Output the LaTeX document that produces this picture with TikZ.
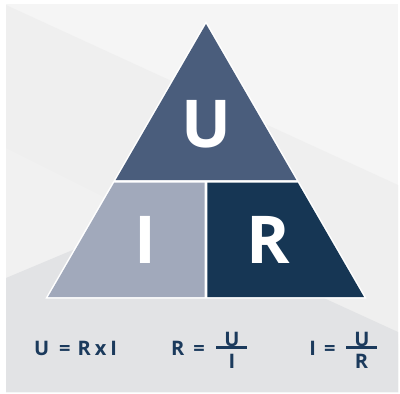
\documentclass[tikz,border=0pt]{standalone}
\usepackage{fontspec}
\setmainfont{Open Sans}
\definecolor{panel}{HTML}{F5F5F5}
\definecolor{band}{HTML}{EFEFEF}
\definecolor{bandb}{HTML}{F1F1F1}
\definecolor{lowgray}{HTML}{E2E3E5}
\definecolor{topc}{HTML}{4A5D7C}
\definecolor{leftc}{HTML}{A1A9BB}
\definecolor{rightc}{HTML}{163654}
\definecolor{txt}{HTML}{1B3A5C}
\begin{document}
\begin{tikzpicture}[x=1pt,y=-1pt,
  big/.style={text=white,font=\fontsize{66}{66}\selectfont\bfseries,inner sep=0pt,anchor=base},
  formula/.style={text=txt,font=\fontsize{20}{20}\selectfont\bfseries,inner sep=0pt,anchor=base},
  bar/.style={draw=txt,line width=2.6pt}]
\useasboundingbox (0,0) rectangle (400,394);
% background panel
\fill[white] (0,0) rectangle (400,394);
\fill[panel] (6,4) rectangle (398,392);
\fill[band] (6,5) -- (398,185) -- (398,392) -- (6,392) -- cycle;
\fill[bandb] (6,148) -- (398,344) -- (398,392) -- (6,392) -- cycle;
\fill[lowgray] (6,278) -- (149,218) -- (398,332) -- (398,392) -- (6,392) -- cycle;
% triangle
\filldraw[white,line width=3pt,line join=miter] (206,24) -- (364,297) -- (48,297) -- cycle;
\fill[topc] (206,24) -- (296.3,180) -- (115.7,180) -- cycle;
\fill[leftc] (114.3,182.5) -- (204.7,182.5) -- (204.7,297) -- (48,297) -- cycle;
\fill[rightc] (207.3,182.5) -- (297.7,182.5) -- (364,297) -- (207.3,297) -- cycle;
\node[big] (U) at (206,147) {U};
\node[big] (I) at (145,263) {I};
\node[big] (R) at (268,263) {R};
% formulas
\node[formula] (f1) at (75.5,355) {U\hspace{10pt}=\hspace{7pt}R\hspace{4pt}x\hspace{4pt}I};
\node[formula] (f2) at (188,355) {R\hspace{9pt}=};
\coordinate (b1l) at (216,347.5);
\coordinate (b1r) at (247,347.5);
\draw[bar] (b1l) -- (b1r);
\node[formula] (n1) at (232,346) {U};
\node[formula] (d1) at (232,368) {I};
\node[formula] (f3) at (322.5,355) {I\hspace{8pt}=};
\coordinate (b2l) at (346,347.5);
\coordinate (b2r) at (377,347.5);
\draw[bar] (b2l) -- (b2r);
\node[formula] (n2) at (362,346) {U};
\node[formula] (d2) at (361.5,368) {R};
\end{tikzpicture}
\end{document}
